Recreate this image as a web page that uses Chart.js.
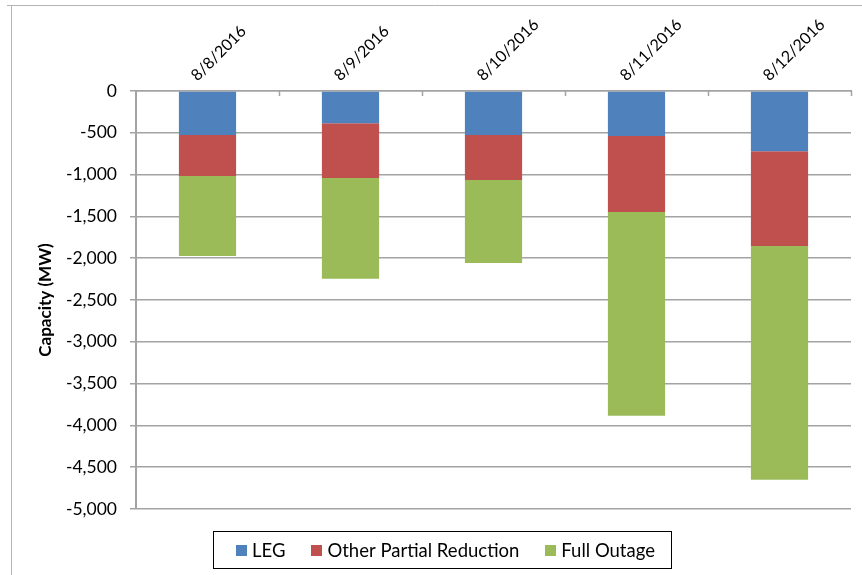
<!DOCTYPE html>
<html>
<head>
<meta charset="utf-8">
<title>Capacity reductions, 8/8/2016 – 8/12/2016</title>
<script src="https://cdn.jsdelivr.net/npm/chart.js@4.4.1/dist/chart.umd.min.js"></script>
<style>
  html, body { margin: 0; padding: 0; background: #ffffff; }
  #wrap { width: 862px; height: 575px; }
</style>
</head>
<body>
<div id="wrap"><canvas id="c" width="862" height="575"></canvas></div>
<script>
// Daily capacity reductions (MW), stacked downward from zero
const dates = ['8/8/2016', '8/9/2016', '8/10/2016', '8/11/2016', '8/12/2016'];
const legMW = [-526, -387, -526, -538, -722];
const otherPartialMW = [-491, -654, -539, -909, -1132];
const fullOutageMW = [-957, -1204, -992, -2437, -2795];
const yTickValues = [0, -500, -1000, -1500, -2000, -2500, -3000, -3500, -4000, -4500, -5000];
const seriesNames = ['LEG', 'Other Partial Reduction', 'Full Outage'];

const COLORS = ['#4F81BD', '#C0504D', '#9BBB59'];
const GRID = '#a3a3a3';
const FONT = 'Lato, "Liberation Sans", sans-serif';

Chart.defaults.font.family = FONT;
Chart.defaults.color = '#000000';

// White page with a thin frame along the top and left edges
const framePlugin = {
  id: 'frame',
  beforeDraw(chart) {
    const ctx = chart.ctx;
    ctx.save();
    ctx.fillStyle = '#ffffff';
    ctx.fillRect(0, 0, chart.width, chart.height);
    ctx.strokeStyle = '#b4b4b4';
    ctx.lineWidth = 1;
    ctx.beginPath();
    ctx.moveTo(7, 5.5);
    ctx.lineTo(chart.width, 5.5);
    ctx.moveTo(11.5, 5);
    ctx.lineTo(11.5, chart.height);
    ctx.stroke();
    ctx.restore();
  }
};

// Short tick marks hanging below the category axis at category boundaries
const categoryTicksPlugin = {
  id: 'categoryTicks',
  afterDraw(chart) {
    const x = chart.scales.x;
    const n = chart.data.labels.length;
    const ctx = chart.ctx;
    ctx.save();
    ctx.strokeStyle = GRID;
    ctx.lineWidth = 1.5;
    ctx.beginPath();
    for (let i = 1; i <= n; i++) {
      const px = Math.round(x.getPixelForValue(i - 0.5)) + 0.5;
      ctx.moveTo(px, x.bottom);
      ctx.lineTo(px, x.bottom + 5);
    }
    ctx.stroke();
    ctx.restore();
  }
};

// Boxed legend below the plot
const boxedLegendPlugin = {
  id: 'boxedLegend',
  afterDraw(chart) {
    const ctx = chart.ctx;
    const box = { left: 213.5, top: 531.5, right: 671.5, bottom: 568.5 };
    const sw = 11, gapText = 5, gapItem = 26;
    ctx.save();
    ctx.font = '18.5px ' + FONT;
    ctx.textBaseline = 'middle';
    ctx.textAlign = 'left';
    const items = chart.data.datasets.map(d => ({ label: d.label, color: d.backgroundColor, w: ctx.measureText(d.label).width }));
    let total = 0;
    items.forEach((it, i) => { total += sw + gapText + it.w + (i < items.length - 1 ? gapItem : 0); });
    const cy = (box.top + box.bottom) / 2;
    let x = box.left + (box.right - box.left - total) / 2 + 3;
    items.forEach(it => {
      ctx.fillStyle = it.color;
      ctx.fillRect(Math.round(x), Math.round(cy - sw / 2), sw, sw);
      x += sw + gapText;
      ctx.fillStyle = '#000000';
      ctx.fillText(it.label, x, cy + 1);
      x += it.w + gapItem;
    });
    ctx.strokeStyle = '#000000';
    ctx.lineWidth = 1;
    ctx.strokeRect(box.left, box.top, box.right - box.left, box.bottom - box.top);
    ctx.restore();
  }
};

new Chart(document.getElementById('c'), {
  type: 'bar',
  data: {
    labels: dates,
    datasets: [
      { label: seriesNames[0], data: legMW, backgroundColor: COLORS[0] },
      { label: seriesNames[1], data: otherPartialMW, backgroundColor: COLORS[1] },
      { label: seriesNames[2], data: fullOutageMW, backgroundColor: COLORS[2] }
    ].map(d => Object.assign(d, { borderWidth: 0, categoryPercentage: 1.0, barPercentage: 0.4 }))
  },
  options: {
    responsive: false,
    animation: false,
    locale: 'en-US',
    layout: { padding: { left: 0, right: 11, top: 0, bottom: 66 } },
    plugins: {
      legend: { display: false },
      tooltip: { enabled: false },
      title: { display: false }
    },
    scales: {
      x: {
        position: 'top',
        stacked: true,
        offset: true,
        grid: { display: false, drawTicks: false },
        border: { display: true, color: GRID, width: 1.5 },
        ticks: {
          minRotation: 45,
          maxRotation: 45,
          autoSkip: false,
          padding: 6,
          font: { size: 16 },
          color: '#000000'
        },
        afterFit(scale) { scale.height = 91; }
      },
      y: {
        stacked: true,
        min: -5000,
        max: 0,
        afterBuildTicks(scale) { scale.ticks = yTickValues.map(v => ({ value: v })); },
        grid: { color: GRID, lineWidth: 1.5, tickLength: 6, drawTicks: true },
        border: { display: true, color: GRID, width: 2 },
        ticks: {
          padding: 13,
          font: { size: 17.5 },
          color: '#000000',
          callback: v => v.toLocaleString('en-US')
        },
        title: {
          display: true,
          text: 'Capacity (MW)',
          font: { size: 17, weight: 'bold' },
          color: '#000000',
          padding: { top: 35, bottom: 0 }
        },
        afterFit(scale) { scale.width = 136; }
      }
    }
  },
  plugins: [framePlugin, categoryTicksPlugin, boxedLegendPlugin]
});
</script>
</body>
</html>
